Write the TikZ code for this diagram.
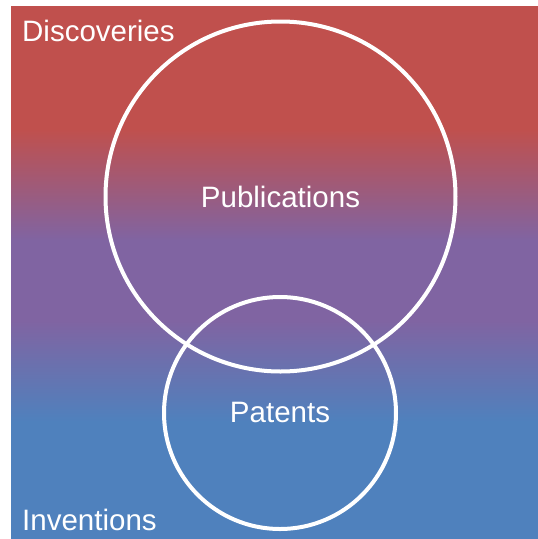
\documentclass[tikz,border=0pt]{standalone}
\usepackage{fontspec}
\setmainfont{Liberation Sans}
\definecolor{topred}{HTML}{C0504D}
\definecolor{midpurple}{HTML}{8064A2}
\definecolor{lowblue}{HTML}{4F81BD}
% red at the top, purple in the middle band, blue at the bottom
\pgfdeclareverticalshading{redpurpleblue}{100bp}{%
  color(0bp)=(lowblue); color(25bp)=(lowblue); color(36bp)=(lowblue);
  color(45.5bp)=(midpurple); color(53bp)=(midpurple);
  color(63.5bp)=(topred); color(75bp)=(topred); color(100bp)=(topred)}
\tikzset{
  ring/.style={draw=white, line width=4pt},
  caption/.style={text=white, font=\fontsize{29.5}{34}\selectfont, inner sep=0pt},
}
\begin{document}
\begin{tikzpicture}[x=1pt, y=-1pt]
  \useasboundingbox (0,0) rectangle (538,539);
  \fill[white] (0,0) rectangle (538,539);
  \shade[shading=redpurpleblue] (11,6) rectangle (538,539);

  \node[ring, circle, minimum size=350pt, inner sep=0pt] (pub) at (280.5,196.5) {};
  \node[ring, circle, minimum size=232pt, inner sep=0pt] (pat) at (280,413) {};

  \node[caption, anchor=base] (publbl) at (280.5,207) {Publications};
  \node[caption, anchor=base] (patlbl) at (280,422) {Patents};
  \node[caption, anchor=base west] (disc) at (22,41) {Discoveries};
  \node[caption, anchor=base west] (inv) at (22,530) {Inventions};
\end{tikzpicture}
\end{document}
